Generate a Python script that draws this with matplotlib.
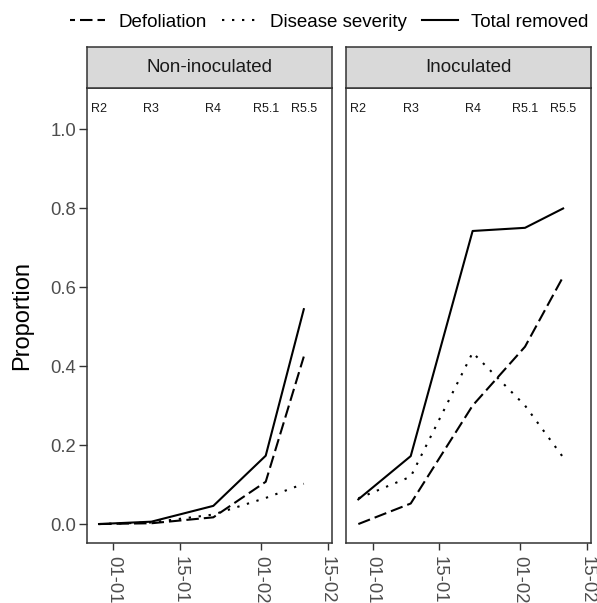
import numpy as np
import pandas as pd
import matplotlib
matplotlib.use("Agg")
import matplotlib.pyplot as plt
import matplotlib.dates as mdates
from matplotlib.lines import Line2D

plt.rcParams["font.family"] = ["Liberation Sans", "DejaVu Sans"]

# sampling dates and growth stages
dates = pd.to_datetime(["2020-12-29", "2021-01-09", "2021-01-22", "2021-02-02", "2021-02-10"])
stages = ["R2", "R3", "R4", "R5.1", "R5.5"]
panels = ["Non-inoculated", "Inoculated"]

defoliation = {
    "Non-inoculated": [0.0, 0.002, 0.017, 0.107, 0.424],
    "Inoculated": [0.0, 0.052, 0.30, 0.449, 0.626],
}
severity = {
    "Non-inoculated": [0.0, 0.004, 0.024, 0.066, 0.102],
    "Inoculated": [0.065, 0.12, 0.434, 0.30, 0.169],
}
total = {
    "Non-inoculated": [0.0, 0.006, 0.046, 0.173, 0.544],
    "Inoculated": [0.0625, 0.172, 0.742, 0.750, 0.799],
}

tick_dates = pd.to_datetime(["2021-01-01", "2021-01-15", "2021-02-01", "2021-02-15"])
y_ticks = [0.0, 0.2, 0.4, 0.6, 0.8, 1.0]

W, H = 597, 603
fig = plt.figure(figsize=(W / 100, H / 100), dpi=100)

lw = 1.5
dash_long = (0, (6, 2.4))
dash_dot = (0, (1.1, 3.7))
ink = "#333333"
txt = "#4D4D4D"

x0 = mdates.date2num(pd.Timestamp("2021-01-01"))
xlim = (x0 - 5.59, x0 + 45.92)

panel_left = [86.7, 346.0]
panel_w = 245.3
top_px, bot_px = 88, 543
strip_top = 47

for i, name in enumerate(panels):
    ax = fig.add_axes([panel_left[i] / W, (H - bot_px) / H, panel_w / W, (bot_px - top_px) / H])
    ax.plot(dates, defoliation[name], color="black", lw=lw, linestyle=dash_long)
    ax.plot(dates, severity[name], color="black", lw=lw, linestyle=dash_dot)
    ax.plot(dates, total[name], color="black", lw=lw, linestyle="-")
    for d, s in zip(dates, stages):
        ax.text(d, 1.05, s, ha="center", va="center", fontsize=9, color="#1A1A1A")
    ax.set_xlim(xlim)
    ax.set_ylim(-0.048, 1.104)
    ax.set_xticks(tick_dates)
    ax.xaxis.set_major_formatter(mdates.DateFormatter("%d-%m"))
    ax.set_yticks(y_ticks)
    ax.set_yticklabels([f"{v:.1f}" for v in y_ticks])
    ax.tick_params(axis="x", labelrotation=270, length=5.2, width=1.0, color=ink,
                   labelsize=13.3, labelcolor=txt, pad=4)
    ax.tick_params(axis="y", length=5.5, width=1.0, color=ink,
                   labelsize=13.3, labelcolor=txt, pad=2)
    for lab in ax.get_xticklabels():
        lab.set_ha("center")
        lab.set_va("top")
    if i == 1:
        ax.tick_params(axis="y", left=False, labelleft=False)
    for sp in ax.spines.values():
        sp.set_color(ink)
        sp.set_linewidth(1.1)

    sax = fig.add_axes([panel_left[i] / W, (H - top_px) / H, panel_w / W, (top_px - strip_top) / H])
    sax.set_facecolor("#D9D9D9")
    sax.set_xticks([])
    sax.set_yticks([])
    for sp in sax.spines.values():
        sp.set_color(ink)
        sp.set_linewidth(1.1)
    sax.text(0.5, 0.5, name, ha="center", va="center", fontsize=13.5,
             color="#1A1A1A", transform=sax.transAxes)

fig.text(22 / W, 1 - 315.5 / H, "Proportion", rotation=90, ha="center", va="center",
         fontsize=17, color="black")

handles = [
    Line2D([], [], color="black", lw=lw, linestyle=(3.6, (6, 2.4))),
    Line2D([], [], color="black", lw=lw, linestyle=dash_dot),
    Line2D([], [], color="black", lw=lw, linestyle="-"),
]
fig.legend(handles, ["Defoliation", "Disease severity", "Total removed"],
           loc="center", bbox_to_anchor=(329 / W, 1 - 22 / H), ncol=3, frameon=False,
           fontsize=13.5, handlelength=1.9, handletextpad=0.7, columnspacing=0.8)

fig.savefig("out.png", dpi=100)
